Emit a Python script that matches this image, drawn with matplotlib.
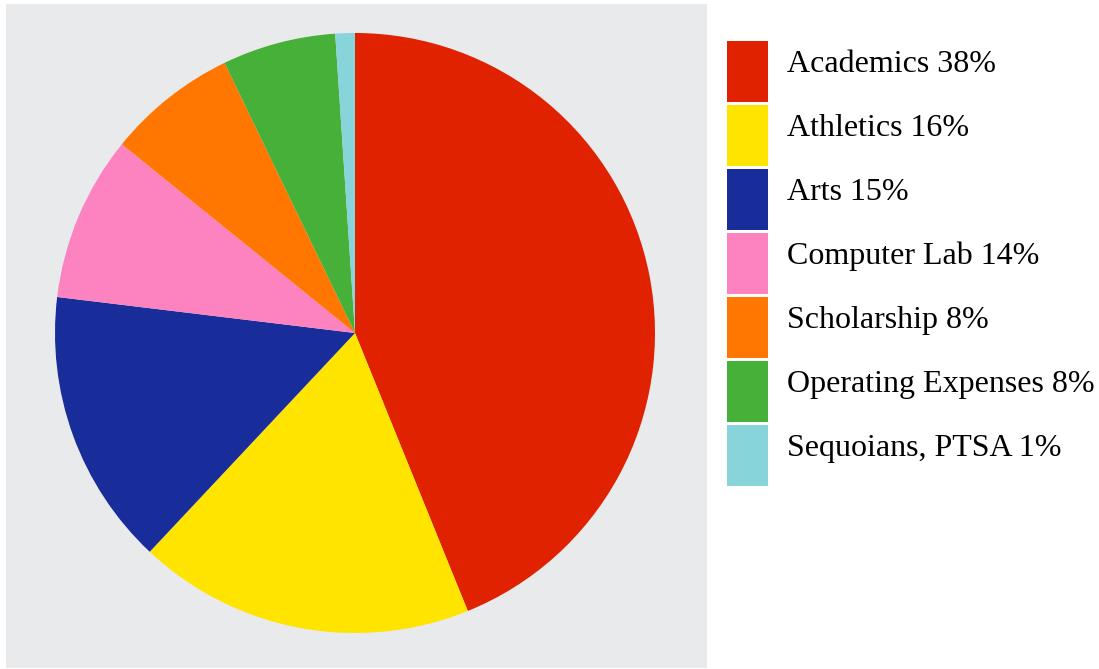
import matplotlib
matplotlib.use("Agg")
import matplotlib.pyplot as plt
from matplotlib.patches import Rectangle

# slice sizes (labels carry the official percentages)
labels = ["Academics 38%", "Athletics 16%", "Arts 15%", "Computer Lab 14%",
          "Scholarship 8%", "Operating Expenses 8%", "Sequoians, PTSA 1%"]
values = [43.8, 18.1, 14.9, 8.9, 7.0, 6.1, 1.05]
colors = ["#e02200", "#ffe400", "#182c9a", "#fc83c0", "#ff7600", "#47b038", "#88d4db"]

W, H = 1099, 669
fig = plt.figure(figsize=(W / 100, H / 100), dpi=100)

# grey panel behind the pie
fig.patches.append(Rectangle((6 / W, 1 - 668 / H), 701 / W, 664 / H,
                             transform=fig.transFigure, facecolor="#e9eaec",
                             edgecolor="none", zorder=-1))

ax = fig.add_axes([55 / W, 1 - 633 / H, 600 / W, 600 / H], zorder=2)
ax.pie(values, colors=colors, startangle=90, counterclock=False,
       wedgeprops=dict(linewidth=0))
ax.set_xlim(-1, 1)
ax.set_ylim(-1, 1)
ax.set_aspect("auto")
ax.axis("off")

# legend
for i, (lab, col) in enumerate(zip(labels, colors)):
    top = 41 + i * 64
    fig.patches.append(Rectangle((727 / W, 1 - (top + 61) / H), 41 / W, 61 / H,
                                 transform=fig.transFigure, facecolor=col,
                                 edgecolor="none"))
    fig.text(787 / W, 1 - (top + 31) / H, lab, fontsize=23,
             family="Liberation Serif", va="baseline", ha="left")

fig.savefig("out.png", dpi=100)
